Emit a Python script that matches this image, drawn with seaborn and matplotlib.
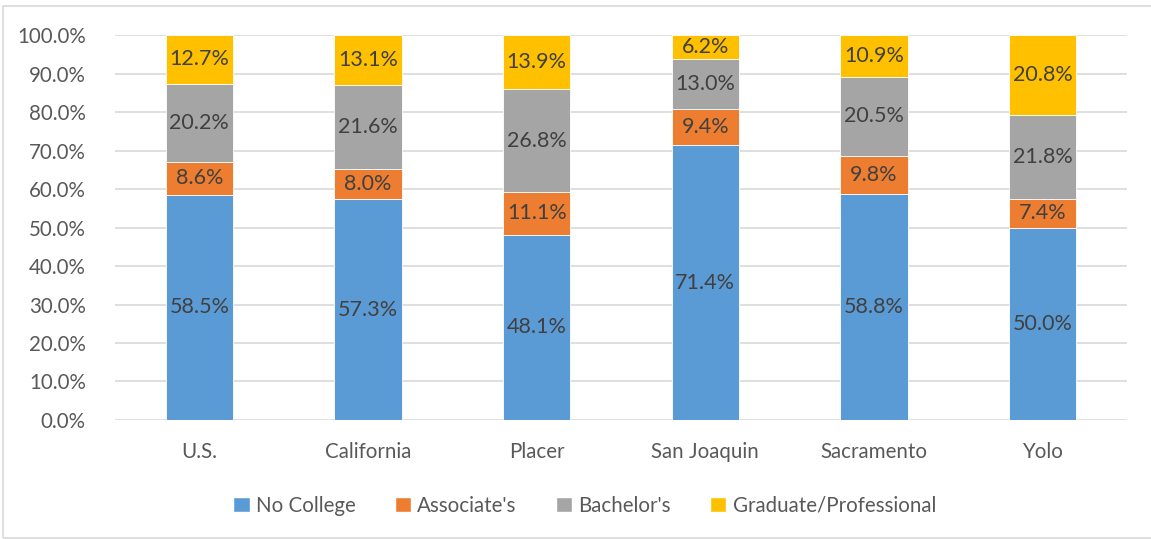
import numpy as np
import pandas as pd
import matplotlib
matplotlib.use("Agg")
import matplotlib.pyplot as plt
import seaborn as sns
from matplotlib.patches import Patch, Rectangle
from matplotlib.ticker import PercentFormatter

regions = ["U.S.", "California", "Placer", "San Joaquin", "Sacramento", "Yolo"]
no_college = [58.5, 57.3, 48.1, 71.4, 58.8, 50.0]
associates = [8.6, 8.0, 11.1, 9.4, 9.8, 7.4]
bachelors = [20.2, 21.6, 26.8, 13.0, 20.5, 21.8]
graduate = [12.7, 13.1, 13.9, 6.2, 10.9, 20.8]

series = ["No College", "Associate's", "Bachelor's", "Graduate/Professional"]
colors = ["#5B9BD5", "#ED7D31", "#A5A5A5", "#FFC000"]

sns.set_style("white")
plt.rcParams["font.family"] = ["Lato", "DejaVu Sans"]

df = pd.DataFrame({"region": regions, series[0]: no_college, series[1]: associates,
                   series[2]: bachelors, series[3]: graduate})

fig = plt.figure(figsize=(11.51, 5.39), dpi=100)
ax = fig.add_axes([0.0999, 0.2208, 0.8793, 0.7142])

bottom = np.zeros(len(regions))
for name, col in zip(series, colors):
    vals = df[name].values
    sns.barplot(x=df["region"], y=vals, bottom=bottom, color=col, width=0.4,
                saturation=1, ax=ax, edgecolor="white", linewidth=0.6, zorder=3)
    for i, v in enumerate(vals):
        ax.text(i, bottom[i] + v / 2, f"{v:.1f}%", ha="center", va="center",
                fontsize=15.5, color="#404040", zorder=4)
    bottom += vals

ax.set_ylim(0, 100)
ax.set_xlim(-0.5, len(regions) - 0.5)
ax.set_yticks(np.arange(0, 101, 10))
ax.yaxis.set_major_formatter(PercentFormatter(decimals=1))
ax.grid(axis="y", color="#D9D9D9", linewidth=1.2, zorder=0)
ax.set_xlabel("")
ax.set_ylabel("")
for s in ax.spines.values():
    s.set_visible(False)
ax.tick_params(axis="both", length=0, labelsize=14.8, labelcolor="#595959")
ax.tick_params(axis="x", pad=16)
ax.tick_params(axis="y", pad=21)

handles = [Patch(facecolor=c, label=n) for n, c in zip(series, colors)]
fig.legend(handles=handles, loc="center", bbox_to_anchor=(0.508, 0.062), ncol=4,
           frameon=False, fontsize=14.8, handlelength=0.8, handleheight=0.8,
           handletextpad=0.3, columnspacing=1.9, labelcolor="#595959")

fig.patches.append(Rectangle((0.003, 0.002), 1.5, 0.986, transform=fig.transFigure,
                             fill=False, edgecolor="#D9D9D9", linewidth=1.2))

fig.savefig("out.png", dpi=100)
